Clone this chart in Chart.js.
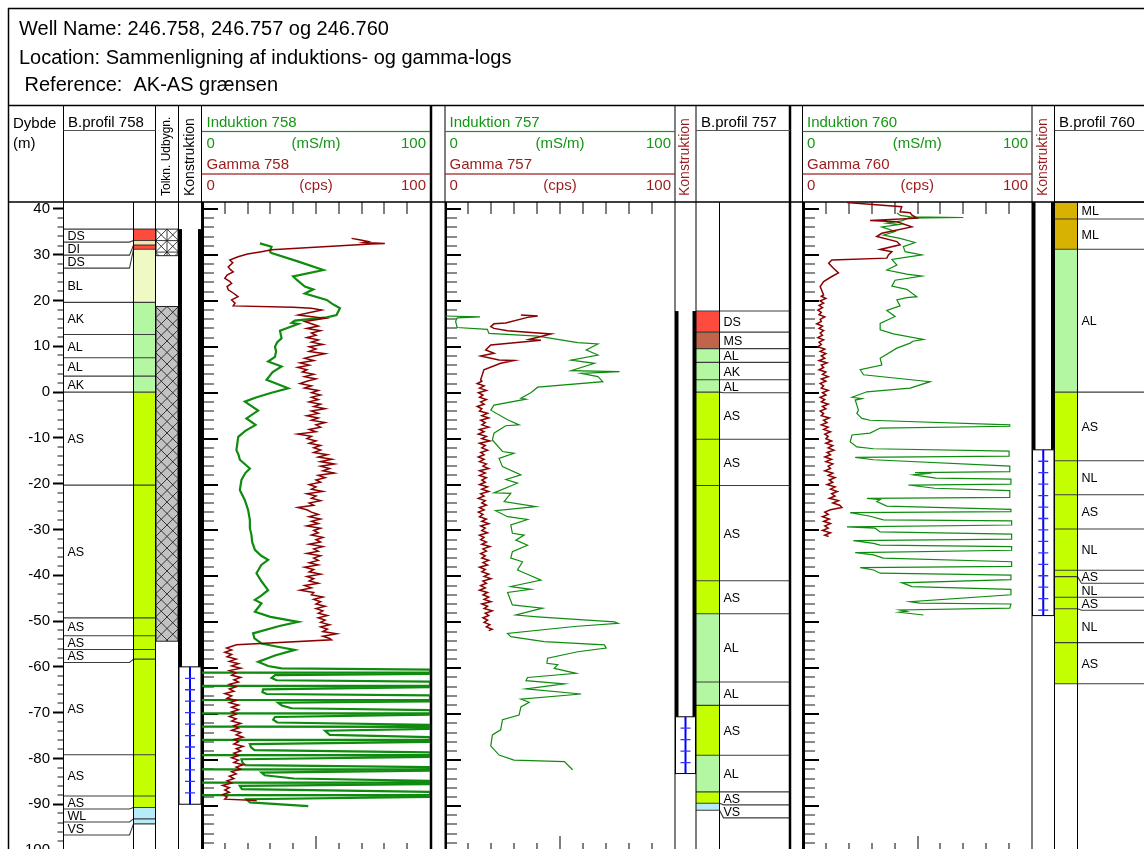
<!DOCTYPE html>
<html>
<head>
<meta charset="utf-8">
<title>Induktions- og gamma-logs 246.758 / 246.757 / 246.760</title>
<script src="https://cdn.jsdelivr.net/npm/chart.js@4.4.1/dist/chart.umd.min.js"></script>
<style>
  html, body { margin: 0; padding: 0; background: #fff; overflow: hidden; }
  #sheet { position: relative; width: 1144px; height: 849px; overflow: hidden; background: #fff; }
  #sheet canvas { position: absolute; }
</style>
</head>
<body>
<div id="sheet">
  <canvas id="frame" width="1144" height="865" style="left:0;top:0"></canvas>
  <canvas id="log758" width="228" height="653" style="left:202px;top:202px"></canvas>
  <canvas id="log757" width="230" height="653" style="left:445px;top:202px"></canvas>
  <canvas id="log760" width="229" height="653" style="left:803px;top:202px"></canvas>
</div>
<script>
// ---------- depth axis (m) shared by every panel ----------
const depthTop = 41.52;
const depthBottom = -100.65;
const depthLabels = [40, 30, 20, 10, 0, -10, -20, -30, -40, -50, -60, -70, -80, -90, -100];

// ---------- borehole profiles: soil codes, layer tops (m), base of last layer ----------
const bp758Codes = ['DS','DI','DS','BL','AK','AL','AL','AK','AS','AS','AS','AS','AS','AS','AS','AS','WL','VS'];
const bp758Tops  = [35.6, 33.1, 32.1, 31.2, 19.6, 12.6, 7.5, 3.5, 0, -20.3, -49.3, -53.2, -56.2, -58.3, -79.2, -88.2, -90.7, -93.2];
const bp758Base  = -94.3;

const bp757Codes = ['DS','MS','AL','AK','AL','AS','AS','AS','AS','AL','AL','AS','AL','AS','VS'];
const bp757Tops  = [17.7, 13.1, 9.5, 6.5, 2.7, 0, -10.3, -20.4, -41.2, -48.4, -63.3, -68.4, -79.3, -87.3, -89.8];
const bp757Base  = -91.3;

const bp760Codes = ['ML','ML','AL','AS','NL','AS','NL','AS','NL','AS','NL','AS'];
const bp760Tops  = [41.5, 37.8, 31.2, 0, -15.0, -22.4, -29.9, -38.9, -40.3, -44.8, -47.3, -54.7];
const bp760Base  = -63.7;

const soilColors = {
  DS: '#ff4b3e', DI: '#fbe2a0', BL: '#eff9c4', AK: '#b4f7a2', AL: '#b4f7a2',
  AS: '#c3ff00', NL: '#c3ff00', WL: '#b6ebfa', VS: '#b6ebfa', MS: '#c0654a', ML: '#d8b200'
};

// ---------- interpreted construction (Tolkn. Udbygn.) for 758 ----------
const tolkn758Tops    = [35.6, 18.7];
const tolkn758Bottoms = [29.8, -54.4];

// ---------- well construction: casing and screen intervals (top, bottom) ----------
const casing758 = [35.6, -60.0];
const screen758 = [-60.0, -90.0];
const casing757 = [17.7, -70.9];
const screen757 = [-70.9, -83.3];
const casing760 = [41.5, -12.6];
const screen760 = [-12.6, -48.8];

// ---------- log curves: [depth (m), reading] ----------
// Induction 758 (mS/m)
const induction758 = [
  [32.5,25.4],[31.8,30.5],[30.7,29.8],[30.4,30.5],[28.6,42],[26.7,53.2],[25.3,40],[24.6,41.5],[23.1,45.1],
  [22.5,48.8],[21.6,45.1],[20.2,54.7],[19.4,57],[18.4,60.5],[16.9,59],[16.4,54.7],[15.7,40.7],[15.2,39.3],
  [14.96,42.2],[14.2,38],[13.5,34.2],[11.85,34.9],[11,33],[10,32],[9,32.5],[7.8,32],[6.8,29],[5.7,34.9],
  [4.5,31],[2.8,28.3],[0.96,37.8],[0,30.5],[-1,24],[-1.95,18.8],[-3.9,24.6],[-5.6,19.5],[-7,23.5],[-8.3,19],
  [-9.6,15.9],[-11,15.5],[-12.5,15.1],[-13.5,16],[-14.6,16.6],[-16.5,21],[-17.5,19],[-19,17.3],[-21.2,16.6],
  [-23.4,18.8],[-25.5,20.2],[-27.7,21],[-29.5,21],[-31,21.7],[-32.5,22],[-34.2,23.2],[-35.5,26],[-36.4,29],
  [-37.5,26],[-39.3,23.9],[-41,26],[-43,29],[-44.2,26],[-45.1,23.2],[-45.85,26.1],[-47.7,23.2],[-48.8,30],
  [-49.9,42.2],[-50.8,34],[-52.4,22.4],[-53.5,23],[-54.6,26.1],[-55.2,32],[-56,40.7],[-57.2,32],[-58.6,24.6],
  [-59.5,29],[-60,34.9],[-60.3,100],[-60.9,100],[-60.95,0],[-61.0,100],
  [-61.2,100],[-61.5,32],[-62.1,30.5],[-62.6,32.7],[-62.9,100],
  [-63.8,100],[-63.85,0],[-63.9,100],
  [-64.1,100],[-64.6,26.8],[-65.2,26.5],[-65.6,28.3],[-65.9,100],
  [-66.85,100],[-66.9,0],[-66.95,100],
  [-67.2,100],[-67.5,33.4],[-68.1,35],[-68.7,39.3],[-69.1,100],
  [-69.75,100],[-69.8,0],[-69.85,100],
  [-70.1,100],[-70.6,32],[-71.2,31.2],[-71.8,33],[-72.3,100],
  [-72.65,100],[-72.7,0],[-72.75,100],
  [-73.2,100],[-73.6,54],[-74.5,56],[-75.0,100],
  [-75.55,100],[-75.6,0],[-75.65,100],
  [-76.0,100],[-76.5,21],[-77.2,21.5],[-77.8,23],[-78.3,100],
  [-78.85,100],[-78.9,0],[-78.95,100],
  [-79.3,100],[-79.8,17.3],[-80.6,17.8],[-81.1,19],[-81.5,100],
  [-81.95,100],[-82.0,0],[-82.05,100],
  [-82.3,100],[-82.7,26.1],[-83.3,27.5],[-84.0,40.3],[-84.5,100],
  [-84.85,100],[-84.9,0],[-84.95,100],
  [-85.2,100],[-85.6,16.6],[-86.3,17.5],[-86.9,100],
  [-87.55,100],[-87.6,0],[-87.65,100],
  [-88.0,100],[-88.5,19.5],[-89.2,21],[-90.0,46.6]
];

// Gamma 758 (cps)
const gamma758 = [
  [33.6,65.6],[33.3,69],[32.9,72.9],[32.7,71],[32.5,80.2],[32.35,74],[31.1,30.5],[30.7,26.1],[30.2,20],
  [29.6,15.8],[28.9,12.2],[28.3,13.5],[27.4,11.5],[26.8,12.5],[26.3,13.7],[25.6,11],[24.9,10],[24.3,12],
  [23.8,13],[23.1,11],[22.4,11.5],[21.6,14],[20.9,15.8],[20.2,13],[19.5,14.5],[18.9,13.7],[18.6,40],
  [18.4,48],[18.0,52.5],[16.9,42.2],[16.2,53.9],[15.5,45.1],
  [15.0,48],[14.5,51],[14.0,46],[13.5,52],[13.0,48],[12.5,50],[12.0,46],[11.5,51],[11.0,48],[10.5,53],
  [10.0,47],[9.5,50],[9.0,47],[8.5,54],[8.0,49],[7.5,45],[7.0,49],[6.5,43],[6.0,47],[5.5,42],[5.0,46],
  [4.5,44],[4.0,49],[3.5,45],[3.0,50],[2.5,46],[2.0,43],[1.5,48],[1.0,45],[0.5,51],[0.0,48],[-0.5,52],
  [-1.0,48],[-1.5,51],[-2.0,47],[-2.5,52],[-3.0,49],[-3.5,54],[-4.0,48],[-4.5,51],[-5.0,46],[-5.5,51],
  [-6.0,48],[-6.5,54],[-7.0,50],[-7.5,52],[-8.0,47],[-8.5,50],[-9.0,42],[-9.5,48],[-10.0,46],[-10.5,50],
  [-11.0,47],[-11.5,52],[-12.0,49],[-12.5,52],[-13.0,49],[-13.5,55],[-14.0,51],[-14.5,57],[-15.0,52],
  [-15.5,58],[-16.0,52],[-16.5,56],[-17.0,53],[-17.5,58],[-18.0,51],[-18.5,54],[-19.0,50],[-19.5,52],
  [-20.0,47],[-20.5,50],[-21.0,48],[-21.5,53],[-22.0,46],[-22.5,50],[-23.0,48],[-23.5,52],[-24.0,47],
  [-24.5,49],[-25.0,42],[-25.5,46],[-26.0,48],[-26.5,51],[-27.0,47],[-27.5,52],[-28.0,48],[-28.5,51],
  [-29.0,46],[-29.5,52],[-30.0,49],[-30.5,51],[-31.0,48],[-31.5,53],[-32.0,50],[-32.5,52],[-33.0,47],
  [-33.5,53],[-34.0,49],[-34.5,51],[-35.0,46],[-35.5,52],[-36.0,49],[-36.5,51],[-37.0,47],[-37.5,51],
  [-38.0,45],[-38.5,49],[-39.0,47],[-39.5,52],[-40.0,46],[-40.5,49],[-41.0,47],[-41.5,51],[-42.0,45],
  [-42.5,48],[-43.0,43],[-43.5,49],[-44.0,48],[-44.5,53],[-45.0,49],[-45.5,52],[-46.0,50],[-46.5,54],
  [-47.0,50],[-47.5,53],[-48.0,51],[-48.5,55],[-49.0,51],[-49.5,54],[-50.0,52],[-50.5,56],[-51.0,52],
  [-51.5,55],[-52.0,53],[-52.5,59],[-53.0,53],[-53.5,56],[-53.8,56.8],[-54.9,15.1],[-55.6,10.8],
  [-56.0,13],[-56.5,10],[-57.0,13],[-57.5,11],[-58.0,15],[-58.5,12],[-59.0,16],[-59.5,13],[-60.0,17],
  [-60.5,12],[-61.0,15],[-61.5,13],[-62.0,17],[-62.5,14],[-63.0,16],[-63.5,12],[-64.0,15],[-64.5,12],
  [-65.0,14],[-65.5,10],[-66.0,13],[-66.5,11],[-67.0,15],[-67.5,12],[-68.0,16],[-68.5,13],[-69.0,16],
  [-69.5,13],[-70.0,15],[-70.5,12],[-71.0,15],[-71.5,13],[-72.0,17],[-72.5,14],[-73.0,16],[-73.5,13],
  [-74.0,17],[-74.5,15],[-75.0,18],[-75.5,14],[-76.0,16],[-76.5,14],[-77.0,18],[-77.5,15],[-78.0,17],
  [-78.5,14],[-79.0,16],[-79.5,13],[-80.0,16],[-80.5,14],[-81.0,18],[-81.5,15],[-82.0,17],[-82.5,13],
  [-83.0,15],[-83.5,12],[-84.0,14],[-84.5,11],[-85.0,13],[-85.5,9],[-86.0,12],[-86.5,10],[-87.0,12],
  [-87.5,9],[-88.0,11],[-88.5,10],[-88.8,24]
];

// Induction 757 (mS/m)
const induction757 = [
  [16.7,0.2],[16.5,15.2],[16.3,5.3],[15.5,4.6],[14.2,5.3],[13.8,18.4],[12.9,19.1],[12.3,40.3],[11.6,49],
  [10.9,57.7],[10.6,66.5],[9.3,61.4],[8.2,66.5],[7.1,54.8],[6.4,65],[4.8,54.8],[4.6,75.9],[4.2,59.2],
  [3.5,66.5],[2.4,68.6],[1.2,40.3],[0.0,37.3],[-1.2,33],[-1.4,35.2],[-2.7,21.3],[-3.8,19.9],[-5.9,27.2],
  [-7.0,32.2],[-7.2,26.4],[-8.8,21.3],[-10.3,20.6],[-12.8,25],[-13.2,30],[-14.3,23.5],[-16.1,25],
  [-17.9,33],[-18.9,26.5],[-19.7,31.5],[-21.8,21.3],[-21.9,28.6],[-23.7,25.7],[-24.8,39.5],[-25.7,22],
  [-27.0,27.2],[-27.6,35.9],[-28.8,28.6],[-30.6,29.3],[-31.0,34.4],[-32.1,30.8],[-33.2,35.9],[-34.6,29.3],
  [-36.0,28.6],[-36.8,33.7],[-38.6,31.5],[-39.7,36.6],[-40.8,41.7],[-42.2,28.6],[-42.8,37.3],[-43.5,27.2],
  [-46.2,29.3],[-46.9,42.4],[-48.4,30.8],[-48.8,40.3],[-49.9,73.7],[-50.2,75.2],[-50.9,56.2],[-52.4,27.2],
  [-53.1,28.6],[-54.2,43.1],[-54.9,69.3],[-55.6,70.1],[-56.4,57.7],[-57.8,44.6],[-58.9,44.3],[-59.2,49],
  [-60.0,47.5],[-61.1,57],[-62.0,35.9],[-62.7,35.2],[-63.4,51.9],[-64.5,35.2],[-65.6,59.2],[-66.7,33],
  [-67.4,36.6],[-68.4,33],[-70.2,32.2],[-71.2,25],[-73.4,24.2],[-74.5,20.6],[-76.9,19.9],[-78.9,23.5],
  [-80.0,30],[-80.3,51.9],[-82.1,55.5]
];

// Gamma 757 (cps)
const gamma757 = [
  [16.9,33],[16.7,40.3],[16.4,35.9],[15.2,26.4],[15.0,21.3],[14.4,19.9],[14.0,21.3],[13.5,27.2],[12.8,46.1],
  [11.6,36.6],[11.4,41.7],[10.4,19.9],[9.3,17.7],[8.6,21.3],[8.0,15.5],[7.1,23.5],[7.0,30],[6.4,24.2],
  [5.0,16.9],[2.8,15.5],
  [2.5,16],[2.0,14],[1.5,17],[1.0,15],[0.5,18],[0.0,14.5],[-0.5,16.5],[-1.0,15],[-1.5,18],[-2.0,15.5],
  [-2.5,17],[-3.0,14],[-3.5,16],[-4.0,15],[-4.5,18.5],[-5.0,16],[-5.5,19],[-6.0,15.5],[-6.5,17.5],
  [-7.0,16],[-7.5,19],[-8.0,15],[-8.5,17],[-9.0,14.5],[-9.5,18],[-10.0,16],[-10.5,19.5],[-11.0,15],
  [-11.5,17.5],[-12.0,16],[-12.5,18.5],[-13.0,15.5],[-13.5,17],[-14.0,14.5],[-14.5,17],[-15.0,15],
  [-15.5,18],[-16.0,16.5],[-16.5,19],[-17.0,15],[-17.5,17.5],[-18.0,15],[-18.5,18],[-19.0,16],[-19.5,17.5],
  [-20.0,15],[-20.5,18.5],[-21.0,16],[-21.5,19],[-22.0,15.5],[-22.5,17],[-23.0,14.5],[-23.5,17.5],
  [-24.0,16],[-24.5,18],[-25.0,15],[-25.5,17],[-26.0,14.5],[-26.5,16.5],[-27.0,15],[-27.5,18],[-28.0,16],
  [-28.5,19],[-29.0,15.5],[-29.5,17.5],[-30.0,16],[-30.5,18.5],[-31.0,15],[-31.5,17],[-32.0,15.5],
  [-32.5,18],[-33.0,16],[-33.5,19.5],[-34.0,16.5],[-34.5,18],[-35.0,15.5],[-35.5,17.5],[-36.0,16],
  [-36.5,19],[-37.0,16.5],[-37.5,18.5],[-38.0,15],[-38.5,17.5],[-39.0,16],[-39.5,19],[-40.0,17],
  [-40.5,20],[-41.0,16.5],[-41.5,18],[-42.0,15.5],[-42.5,17.5],[-43.0,15],[-43.5,18.5],[-44.0,16.5],
  [-44.5,19],[-45.0,17],[-45.5,20],[-46.0,16],[-46.5,18.5],[-47.0,17],[-47.5,20.5],[-48.0,17.5],
  [-48.5,19],[-49.0,16.5],[-49.5,18.5],[-50.0,17],[-50.5,19.5],[-51.0,18],[-51.5,20.5],[-51.8,19]
];

// Induction 760 (mS/m)
const induction760 = [
  [39.1,41],[38.6,42.5],[38.3,47],[38.15,70],[38.0,46],[37.4,43],[36.9,36.6],[36.6,42],[36.1,34.4],
  [35.1,40.2],[34.3,35.1],[33.6,42.4],[32.7,48.9],[31.8,43.8],[30.7,44.6],[30.0,51.9],[29.0,38.8],
  [27.8,41],[26.7,36.6],[25.8,45.3],[25.4,51.9],[24.5,40.2],[23.2,38.8],[22.5,45.3],[20.9,49.7],
  [20.7,45.3],[20.2,41],[18.9,42.4],[17.9,36.6],[16.6,40.2],[15.1,33.7],[13.7,33.7],[12.8,39.5],
  [11.6,52.6],[11.2,48],[10.8,46.8],[9.7,41],[7.5,33.7],[6.0,34.4],[5.0,25],[3.9,26.4],[2.4,55.5],
  [1.0,46.8],[0.2,27.9],[-1.0,21.4],[-1.3,25.7],[-1.6,22.8],[-3.8,24.2],[-4.5,23.5],[-5.6,25.7],
  [-6.0,29.3],[-7.0,90.3],[-7.3,90.3],[-7.7,33.7],[-8.8,29.3],[-9.2,21.4],[-10.7,20.6],[-11.8,23.5],
  [-12.2,30.8],[-12.7,90],[-13.8,90],[-14.1,22.8],[-14.6,30.8],[-16.0,90.3],[-17.2,90.3],[-17.4,48.9],
  [-17.5,56.2],[-17.9,48.2],[-18.6,58],[-18.8,90.8],[-19.9,90.8],[-20.1,46],[-20.8,57.5],[-21.3,90.3],
  [-22.8,90.3],[-23.0,27.9],[-23.3,33.7],[-23.7,32.2],[-24.7,36.6],[-25.4,90.8],[-25.9,90.8],[-26.1,20.6],
  [-26.9,29.3],[-27.7,35.1],[-27.9,91.1],[-28.8,91.1],[-29.2,19.2],[-29.5,31.5],[-30.3,33.7],[-30.8,91.1],
  [-31.9,91.1],[-32.2,22],[-32.8,30.8],[-33.2,33.7],[-33.5,91.1],[-34.3,91.1],[-34.8,22.8],[-35.3,30.8],
  [-36.0,35.1],[-36.8,91.1],[-37.8,91.1],[-38.1,25],[-38.6,30.8],[-39.3,33.7],[-39.7,90.8],[-40.7,90.8],
  [-41.4,43.1],[-41.9,46],[-42.2,47.5],[-42.8,90.8],[-44.0,90.8],[-45.5,46.8],[-45.8,51],[-46.0,90.8],
  [-46.9,90.3],[-47.3,42.4],[-47.6,45.3],[-47.8,42],[-48.4,52.6]
];

// Gamma 760 (cps)
const gamma760 = [
  [41.4,19.2],[40.5,43.1],[39.4,42.4],[39.2,46.8],[38.7,47.5],[38.0,49.7],[37.5,29.3],[37.2,41],
  [36.1,47.5],[34.7,34.4],[34.0,32.2],[32.9,41],[32.2,42.4],[31.2,33.7],[30.7,38.8],[30.0,37.3],
  [29.3,36.6],[28.9,12.6],[28.2,11.2],[27.1,13.3],[26.1,15.5],[25.3,12.6],[24.2,9],[23.1,7.5],[21.3,9],
  [21.0,8],[20.5,10],[20.0,7.5],[19.5,9],[19.0,7],[18.5,8.5],[18.0,6.5],[17.5,8],[17.0,7],[16.5,9.5],
  [16.0,7.5],[15.5,8],[15.0,6],[14.5,8.5],[14.0,7],[13.5,9],[13.0,7.5],[12.5,8.5],[12.0,6.5],[11.5,9],
  [11.0,7],[10.5,8],[10.0,6.5],[9.5,9.5],[9.0,7.5],[8.5,10],[8.0,8],[7.5,9.5],[7.0,7],[6.5,10.5],[6.0,8],
  [5.5,9],[5.0,7],[4.5,10],[4.0,8.5],[3.5,11],[3.0,8],[2.5,10],[2.0,7.5],[1.5,9],[1.0,8],[0.5,11],
  [0.0,8.5],[-0.5,10],[-1.0,7.5],[-1.5,9.5],[-2.0,8],[-2.5,11],[-3.0,8.5],[-3.5,10],[-4.0,7.5],[-4.5,9],
  [-5.0,8],[-5.5,11.5],[-6.0,9],[-6.5,10.5],[-7.0,8],[-7.5,11],[-8.0,9],[-8.5,12],[-9.0,9.5],[-9.5,11],
  [-10.0,10],[-10.5,12.5],[-11.0,10],[-11.5,13],[-12.0,11],[-12.5,13.5],[-13.0,10.5],[-13.5,12],
  [-14.0,9.5],[-14.5,12.5],[-15.0,10],[-15.5,13],[-16.0,11],[-16.5,12],[-17.0,9.5],[-17.5,13],[-18.0,11],
  [-18.5,14],[-19.0,11.5],[-19.5,13],[-20.0,10.5],[-20.5,14],[-21.0,12],[-21.5,15],[-22.0,12.5],
  [-22.5,14],[-23.0,11.5],[-23.5,15.5],[-24.0,13],[-24.5,16],[-25.0,17],[-25.5,12],[-26.0,9.5],
  [-26.5,11],[-27.0,8.5],[-27.5,11.5],[-28.0,9],[-28.5,12],[-29.0,9.5],[-29.5,11],[-30.0,8.5],
  [-30.5,12],[-31.0,9.5],[-31.3,11.2]
];

// ---------- styling ----------
const FONT = '"Liberation Sans", Arial, Helvetica, sans-serif';
const GREEN_TEXT = '#139613';
const RED_TEXT = '#9a1b1b';
const CURVE_GREEN = '#0f8c0f';
const CURVE_RED = '#8b0000';

function hline(ctx, y, x0, x1, w) { ctx.fillRect(x0, y - w / 2, x1 - x0, w); }
function vline(ctx, x, y0, y1, w) { ctx.fillRect(x - w / 2, y0, w, y1 - y0); }

function label(ctx, s, x, y, size, color, align) {
  ctx.font = size + 'px ' + FONT;
  ctx.fillStyle = color;
  ctx.textAlign = align || 'left';
  ctx.textBaseline = 'middle';
  ctx.fillText(s, x, y);
}

function vlabel(ctx, s, cx, yBottom, size, color) {
  ctx.save();
  ctx.translate(cx, yBottom);
  ctx.rotate(-Math.PI / 2);
  label(ctx, s, 0, 0, size, color, 'left');
  ctx.restore();
}

// Soil column plus its label column; thin layers get pushed-down label slots with a hook
function drawProfile(ctx, y, codes, tops, base, barX0, barX1, labX0, labX1, labelsLeft) {
  const n = codes.length;
  const yt = tops.map(t => y.getPixelForValue(t));
  const yb = tops.map((t, i) => y.getPixelForValue(i + 1 < n ? tops[i + 1] : base));
  for (let i = 0; i < n; i++) {
    ctx.fillStyle = soilColors[codes[i]];
    ctx.fillRect(barX0, yt[i], barX1 - barX0, yb[i] - yt[i]);
  }
  const slots = [];
  let prev = -Infinity;
  for (let i = 0; i < n; i++) {
    const st = Math.max(yt[i], prev);
    const sb = Math.max(yb[i], st + 13);
    slots.push([st, sb]);
    prev = sb;
  }
  ctx.strokeStyle = '#3c3c3c';
  ctx.lineWidth = 1.1;
  const boundary = (py, sy) => {
    ctx.beginPath();
    ctx.moveTo(barX0, py); ctx.lineTo(barX1, py);
    if (labelsLeft) {
      ctx.moveTo(labX0, sy); ctx.lineTo(labX1 - 4, sy); ctx.lineTo(labX1, py);
    } else {
      ctx.moveTo(labX0, py); ctx.lineTo(labX0 + 4, sy); ctx.lineTo(labX1, sy);
    }
    ctx.stroke();
  };
  for (let i = 0; i < n; i++) boundary(yt[i], slots[i][0]);
  boundary(yb[n - 1], slots[n - 1][1]);
  for (let i = 0; i < n; i++) {
    label(ctx, codes[i], labX0 + 4, (slots[i][0] + slots[i][1]) / 2 + 1, 12.5, '#000');
  }
}

// Cross-hatched interval of the interpreted construction column
function hatch(ctx, x0, x1, yT, yB, bg, open) {
  const h = yB - yT, step = (x1 - x0) / 2;
  ctx.save();
  ctx.beginPath(); ctx.rect(x0, yT, x1 - x0, h); ctx.clip();
  ctx.fillStyle = bg; ctx.fillRect(x0, yT, x1 - x0, h);
  ctx.strokeStyle = '#262626'; ctx.lineWidth = 0.9;
  ctx.beginPath();
  const kMin = Math.floor(-h / step) - 1, kMax = Math.ceil((x1 - x0 + h) / step) + 1;
  for (let k = kMin; k <= kMax; k++) {
    const c = x0 + k * step;
    ctx.moveTo(c, yT); ctx.lineTo(c + h, yB);
    ctx.moveTo(c, yT); ctx.lineTo(c - h, yB);
  }
  if (open) {
    ctx.moveTo((x0 + x1) / 2, yT); ctx.lineTo((x0 + x1) / 2, yB);
    for (let yy = yT + step; yy < yB; yy += step) { ctx.moveTo(x0, yy); ctx.lineTo(x1, yy); }
  }
  ctx.stroke();
  ctx.restore();
  ctx.strokeStyle = '#222'; ctx.lineWidth = 1;
  ctx.strokeRect(x0 + 0.5, yT, x1 - x0 - 1, h);
}

// Casing (heavy walls) and screen (blue slotted pipe)
function construction(ctx, y, x0, x1, casing, screen) {
  const cT = y.getPixelForValue(casing[0]), cB = y.getPixelForValue(casing[1]);
  ctx.fillStyle = '#000';
  ctx.fillRect(x0, cT, 3.5, cB - cT);
  ctx.fillRect(x1 - 3.5, cT, 3.5, cB - cT);
  const sT = y.getPixelForValue(screen[0]), sB = y.getPixelForValue(screen[1]);
  ctx.strokeStyle = '#000'; ctx.lineWidth = 1;
  ctx.strokeRect(x0 + 0.5, sT, x1 - x0 - 1, sB - sT);
  const cx = (x0 + x1) / 2;
  ctx.fillStyle = '#0000ff';
  ctx.fillRect(cx - 1, sT, 2, sB - sT);
  ctx.strokeStyle = '#3333ff'; ctx.lineWidth = 1.3;
  ctx.beginPath();
  for (let d = screen[0] - 2.5; d > screen[1] + 0.5; d -= 2.5) {
    const py = y.getPixelForValue(d);
    ctx.moveTo(cx - 5, py); ctx.lineTo(cx + 5, py);
  }
  ctx.stroke();
}

function logHeader(ctx, x0, x1, well) {
  const cx = (x0 + x1) / 2;
  label(ctx, 'Induktion ' + well, x0 + 4.5, 123, 15, GREEN_TEXT);
  ctx.fillStyle = GREEN_TEXT; hline(ctx, 131.5, x0, x1, 1.2);
  label(ctx, '0', x0 + 4.5, 144, 15, GREEN_TEXT);
  label(ctx, '(mS/m)', cx, 144, 15, GREEN_TEXT, 'center');
  label(ctx, '100', x1 - 4, 144, 15, GREEN_TEXT, 'right');
  label(ctx, 'Gamma ' + well, x0 + 4.5, 165, 15, RED_TEXT);
  ctx.fillStyle = RED_TEXT; hline(ctx, 174, x0, x1, 1.2);
  label(ctx, '0', x0 + 4.5, 186, 15, RED_TEXT);
  label(ctx, '(cps)', cx, 186, 15, RED_TEXT, 'center');
  label(ctx, '100', x1 - 4, 186, 15, RED_TEXT, 'right');
}

const sheetPlugin = {
  id: 'wellSheet',
  beforeDraw(chart) {
    const ctx = chart.ctx;
    ctx.save(); ctx.fillStyle = '#fff'; ctx.fillRect(0, 0, chart.width, chart.height); ctx.restore();
  },
  afterDraw(chart) {
    const ctx = chart.ctx, y = chart.scales.y;
    const plotTop = chart.chartArea.top, H = chart.height;
    ctx.save();

    drawProfile(ctx, y, bp758Codes, bp758Tops, bp758Base, 133.5, 155.5, 63.5, 133.5, true);
    drawProfile(ctx, y, bp757Codes, bp757Tops, bp757Base, 696, 719.5, 719.5, 790, false);
    drawProfile(ctx, y, bp760Codes, bp760Tops, bp760Base, 1054.5, 1077.5, 1077.5, 1144, false);

    tolkn758Tops.forEach((t, i) => {
      hatch(ctx, 155.5, 178.5, y.getPixelForValue(t), y.getPixelForValue(tolkn758Bottoms[i]),
            i === 0 ? '#ffffff' : '#c2c2c2', i === 0);
    });

    construction(ctx, y, 178.5, 201.5, casing758, screen758);
    construction(ctx, y, 675, 696, casing757, screen757);
    construction(ctx, y, 1032, 1054.5, casing760, screen760);

    // minor depth ticks every 2 m
    ctx.fillStyle = '#8a8a8a';
    for (let d = 40; d >= -100; d -= 2) {
      if (d % 10 !== 0) ctx.fillRect(57.5, Math.round(y.getPixelForValue(d)) - 1, 6, 2);
    }

    // sheet frame and column rules
    ctx.fillStyle = '#000';
    vline(ctx, 8.5, 8, H, 1.5);
    hline(ctx, 8.5, 8, 1144, 1.5);
    hline(ctx, 105.5, 8, 1144, 1.5);
    hline(ctx, plotTop, 8, 1144, 1.5);
    [[63.5, 1], [155.5, 1], [178.5, 1], [201.5, 1], [431, 2.5], [445, 1], [675, 1], [696, 1],
     [790, 2.5], [802.5, 1], [1032, 1], [1054.5, 1]].forEach(([x, w]) => vline(ctx, x, 105, H, w));
    [133.5, 719.5, 1077.5].forEach(x => vline(ctx, x, plotTop, H, 1));

    // title block
    label(ctx, 'Well Name: 246.758, 246.757 og 246.760', 19, 29, 20, '#000');
    label(ctx, 'Location: Sammenligning af induktions- og gamma-logs', 19, 58, 20, '#000');
    label(ctx, ' Reference:  AK-AS grænsen', 19, 85, 20, '#000');

    // column headers
    label(ctx, 'Dybde', 13, 124, 15, '#000');
    label(ctx, '(m)', 13, 144, 15, '#000');
    label(ctx, 'B.profil 758', 68, 123, 15, '#000');
    label(ctx, 'B.profil 757', 701, 123, 15, '#000');
    label(ctx, 'B.profil 760', 1059, 123, 15, '#000');
    ctx.fillStyle = '#555';
    hline(ctx, 130.5, 63.5, 155.5, 1);
    hline(ctx, 130.5, 696, 790, 1);
    hline(ctx, 130.5, 1054.5, 1144, 1);
    vlabel(ctx, 'Tolkn. Udbygn.', 167, 196, 12, '#000');
    vlabel(ctx, 'Konstruktion', 190, 196, 14, '#000');
    vlabel(ctx, 'Konstruktion', 685.5, 196, 14, RED_TEXT);
    vlabel(ctx, 'Konstruktion', 1043.3, 196, 14, RED_TEXT);
    logHeader(ctx, 202, 430, '758');
    logHeader(ctx, 445, 675, '757');
    logHeader(ctx, 802.5, 1032, '760');

    ctx.restore();
  }
};

// Depth ticks down the left edge and scale ticks along top and bottom of a log track
const trackPlugin = {
  id: 'trackTicks',
  beforeDatasetsDraw(chart) {
    const { ctx, chartArea: a, scales: { x, y } } = chart;
    ctx.save();
    for (let d = 40; d >= -100; d -= 2) {
      const py = Math.round(y.getPixelForValue(d));
      const major = d % 10 === 0;
      ctx.fillStyle = major ? '#000' : '#8a8a8a';
      ctx.fillRect(a.left, py - 1, major ? 16 : 12, 2);
    }
    ctx.fillStyle = '#000';
    for (let v = 10; v < 100; v += 10) {
      const px = Math.round(x.getPixelForValue(v));
      ctx.fillRect(px - 0.5, a.top, 1, 12);
      const len = v === 50 ? 19 : 12;
      ctx.fillRect(px - 0.5, a.bottom - len, 1, len);
    }
    ctx.fillRect(a.left, a.top, 2, a.bottom - a.top);
    ctx.restore();
  }
};

// Sheet with the labelled depth axis
new Chart(document.getElementById('frame'), {
  type: 'scatter',
  data: { datasets: [] },
  options: {
    responsive: false, animation: false, devicePixelRatio: 1, events: [],
    layout: { padding: { left: 10, top: 202, right: 0, bottom: 10 } },
    plugins: { legend: { display: false }, tooltip: { enabled: false } },
    scales: {
      x: { type: 'linear', display: false, min: 0, max: 1 },
      y: {
        type: 'linear', position: 'left', min: depthBottom, max: depthTop,
        afterBuildTicks: s => { s.ticks = depthLabels.map(v => ({ value: v })); },
        afterFit: s => { s.width = 53; },
        ticks: { color: '#000', font: { family: FONT, size: 15 }, padding: 3, autoSkip: false,
                 callback: v => String(v) },
        grid: { drawOnChartArea: false, drawTicks: true, tickLength: 10, tickWidth: 2,
                tickColor: '#000', color: '#000' },
        border: { display: false }
      }
    }
  },
  plugins: [sheetPlugin]
});

function logTrack(id, induction, gamma, greenWidth) {
  const toXY = pts => pts.map(([d, v]) => ({ x: v, y: d }));
  return new Chart(document.getElementById(id), {
    type: 'scatter',
    data: {
      datasets: [
        { data: toXY(gamma), showLine: true, borderColor: CURVE_RED, borderWidth: 1.5,
          pointRadius: 0, pointHoverRadius: 0, tension: 0, fill: false },
        { data: toXY(induction), showLine: true, borderColor: CURVE_GREEN, borderWidth: greenWidth,
          pointRadius: 0, pointHoverRadius: 0, tension: 0, fill: false }
      ]
    },
    options: {
      responsive: false, animation: false, devicePixelRatio: 1, events: [],
      layout: { padding: 0 },
      plugins: { legend: { display: false }, tooltip: { enabled: false } },
      scales: {
        x: { type: 'linear', min: 0, max: 100, display: false },
        y: { type: 'linear', min: depthBottom, max: depthTop, display: false }
      }
    },
    plugins: [trackPlugin]
  });
}

logTrack('log758', induction758, gamma758, 2.2);
logTrack('log757', induction757, gamma757, 1.2);
logTrack('log760', induction760, gamma760, 1.2);
</script>
</body>
</html>
